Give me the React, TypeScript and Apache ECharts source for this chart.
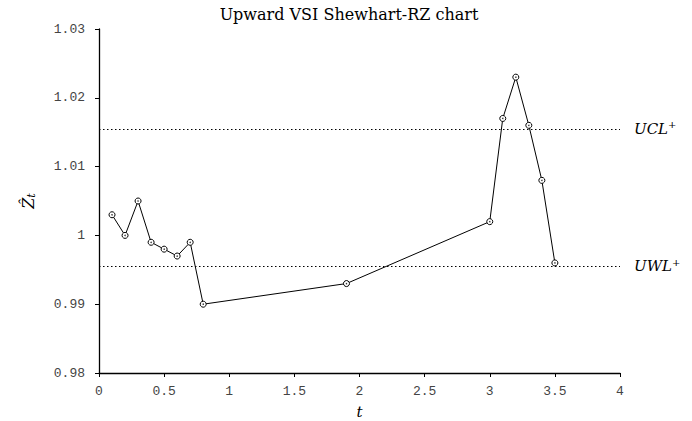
import React, { useEffect, useRef } from "react";
import * as echarts from "echarts";

const tValues = [0.1, 0.2, 0.3, 0.4, 0.5, 0.6, 0.7, 0.8, 1.9, 3.0, 3.1, 3.2, 3.3, 3.4, 3.5];
const zValues = [1.003, 1.0, 1.005, 0.999, 0.998, 0.997, 0.999, 0.99, 0.993, 1.002, 1.017, 1.023, 1.016, 1.008, 0.996];
const ucl = 1.0155;
const uwl = 0.9955;
const titleText = "Upward VSI Shewhart-RZ chart";
const SERIF = "'DejaVu Serif', serif";
const MONO = "'Liberation Mono', monospace";

export default function App() {
  const ref = useRef<HTMLDivElement>(null);
  useEffect(() => {
    if (!ref.current) return;
    const chart = echarts.init(ref.current, null, { renderer: "svg" });
    const tickFont = { fontFamily: MONO, fontSize: 13, color: "#444" };
    const points = tValues.map((t, i) => [t, zValues[i]]);
    const limitLabel = (name: string) => ({
      show: true,
      position: "end" as const,
      distance: 14,
      formatter: `{a|${name}}{b|+}`,
      rich: {
        a: { fontFamily: SERIF, fontStyle: "italic", fontSize: 15, color: "#000" },
        b: { fontFamily: SERIF, fontSize: 10, color: "#000", verticalAlign: "top", padding: [0, 0, 8, 0] },
      },
    });
    chart.setOption({
      animation: false,
      title: {
        text: titleText,
        left: 344,
        textAlign: "center",
        top: 1,
        textStyle: { fontFamily: SERIF, fontSize: 16, fontWeight: "normal", color: "#000" },
      },
      grid: { left: 99, right: 72, top: 29, bottom: 48, containLabel: false, outerBoundsMode: "none" },
      xAxis: {
        type: "value",
        min: 0,
        max: 4,
        interval: 0.5,
        name: "t",
        nameLocation: "middle",
        nameGap: 31,
        nameTextStyle: { fontFamily: SERIF, fontStyle: "italic", fontSize: 15, color: "#000" },
        axisLine: { lineStyle: { color: "#000", width: 1.3 } },
        axisTick: { show: true, inside: false, length: 4, lineStyle: { color: "#000" } },
        axisLabel: { ...tickFont, margin: 12 },
        splitLine: { show: false },
      },
      yAxis: {
        type: "value",
        min: 0.98,
        max: 1.03,
        interval: 0.01,
        name: "{z|Ẑ}{s|t}",
        nameLocation: "middle",
        nameGap: 62,
        nameRotate: 90,
        nameTextStyle: {
          rich: {
            z: { fontFamily: SERIF, fontStyle: "italic", fontSize: 16, color: "#000" },
            s: { fontFamily: SERIF, fontStyle: "italic", fontSize: 11, color: "#000", verticalAlign: "bottom", padding: [6, 0, 0, 0] },
          },
        },
        axisLine: { show: true, lineStyle: { color: "#000", width: 1.3 } },
        axisTick: { show: true, inside: false, length: 4, lineStyle: { color: "#000" } },
        axisLabel: {
          ...tickFont,
          margin: 14,
          formatter: (v: number) => String(parseFloat(v.toFixed(3))),
        },
        splitLine: { show: false },
      },
      series: [
        {
          type: "line",
          data: points,
          symbol: "circle",
          symbolSize: 6,
          showAllSymbol: true,
          itemStyle: { color: "#fff", borderColor: "#000", borderWidth: 1 },
          lineStyle: { color: "#000", width: 1 },
          markLine: {
            silent: true,
            symbol: "none",
            precision: 5,
            lineStyle: { color: "#000", type: [1.5, 2.5], width: 1 },
            data: [
              { yAxis: ucl, label: limitLabel("UCL") },
              { yAxis: uwl, label: limitLabel("UWL") },
            ],
          },
        },
        {
          type: "scatter",
          data: points,
          symbol: "circle",
          symbolSize: 1.5,
          silent: true,
          itemStyle: { color: "#000" },
          z: 5,
        },
      ],
    });
    return () => chart.dispose();
  }, []);
  return <div ref={ref} style={{ position: "absolute", left: 0, top: 0, width: 692, height: 421 }} />;
}
